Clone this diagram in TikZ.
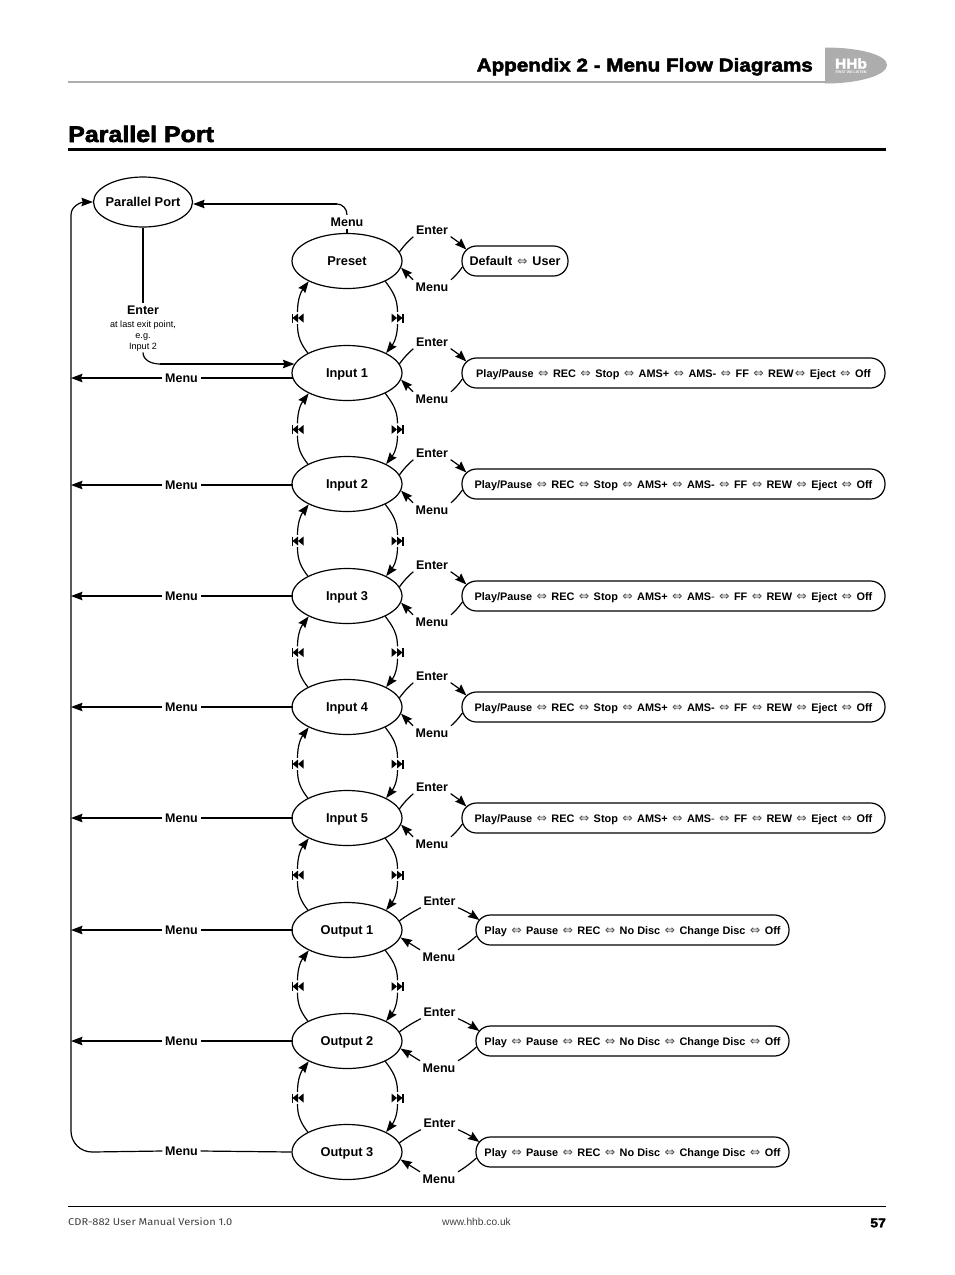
\documentclass[tikz,border=0pt]{standalone}
\usepackage{fontspec}
\usetikzlibrary{arrows.meta,shapes.geometric,calc}
\setmainfont{Liberation Sans}
\newfontfamily\symfont{DejaVu Sans}
\newfontfamily\headfont[FakeBold=2.6,FakeStretch=1.11]{Liberation Sans Bold}
\newfontfamily\footfont[FakeStretch=1.12]{Fira Sans}
\definecolor{dagrey}{gray}{0.3}
\newcommand{\dd}{\kern1.35pt{\symfont\mdseries\fontsize{12.5}{10}\selectfont\textcolor{dagrey}{⇔}}\kern1.35pt}
\newcommand{\instrip}[1]{Play/Pause \dd{} REC \dd{} Stop \dd{} AMS+ \dd{} AMS#1 \dd{} FF \dd{} REW \dd{} Eject \dd{} Off}
\newcommand{\outstrip}{Play \dd{} Pause \dd{} REC \dd{} No Disc \dd{} Change Disc \dd{} Off}
\newcommand{\smalltxt}{\mdseries\fontsize{9.1}{11}\selectfont}
\tikzset{
  x=1pt,y=-1pt,
  conn/.style={line width=1.2pt,draw=black},
  arr/.style={conn,-{Stealth[length=11.5pt,width=8.5pt,inset=1.5pt]}},
  state/.style={ellipse,draw=black,line width=1.2pt,minimum width=110pt,minimum height=55pt,inner xsep=-9pt,inner ysep=0pt,text height=9pt,text depth=0pt,font=\bfseries\fontsize{12.8}{14}\selectfont},
  stripbox/.style={rectangle,rounded corners=14.5pt,draw=black,line width=1.2pt,minimum height=30pt,inner sep=0pt,text height=8pt,text depth=0pt,font=\bfseries\fontsize{10.9}{13}\selectfont},
  lbl/.style={inner sep=2.5pt,text height=9pt,text depth=0pt,font=\bfseries\fontsize{12.5}{14}\selectfont},
  prevskip/.style={minimum width=13pt,minimum height=12pt,inner sep=0pt,path picture={
    \fill ([shift={(-6,-4.5)}]path picture bounding box.center) rectangle ++(1.1,9);
    \fill ([shift={(-5,0)}]path picture bounding box.center) -- ++(5.5,-4.5) -- ++(0,9) -- cycle;
    \fill ([shift={(0.5,0)}]path picture bounding box.center) -- ++(5.5,-4.5) -- ++(0,9) -- cycle;}},
  nextskip/.style={minimum width=13pt,minimum height=12pt,inner sep=0pt,path picture={
    \fill ([shift={(4.9,-4.5)}]path picture bounding box.center) rectangle ++(1.1,9);
    \fill ([shift={(5,0)}]path picture bounding box.center) -- ++(-5.5,-4.5) -- ++(0,9) -- cycle;
    \fill ([shift={(-0.5,0)}]path picture bounding box.center) -- ++(-5.5,-4.5) -- ++(0,9) -- cycle;}},
}
\begin{document}
\begin{tikzpicture}
\useasboundingbox (0,0) rectangle (954,1275);
\fill[white] (0,0) rectangle (954,1275);
% header
\draw[line width=2pt,draw=black!32] (68,82) -- (826,82);
\fill[black!32] (825,47.5) .. controls (860,47.5) and (887,55) .. (887,65) .. controls (887,75) and (860,83.5) .. (825,83.5) -- cycle;
\node[anchor=center,text=white,inner sep=0pt,font=\headfont\fontsize{14}{15}\selectfont] (logo) at (851,63.5) {HHb};
\node[anchor=center,text=white,inner sep=0pt,font=\bfseries\fontsize{3.6}{4}\selectfont] (logosub) at (851,72) {FIRST WE LISTEN};
\node[anchor=east,inner sep=0pt,text height=14pt,text depth=0pt,font=\headfont\fontsize{18.6}{22}\selectfont] (apx) at (813,64.5) {Appendix 2 - Menu Flow Diagrams};
\node[anchor=west,inner sep=0pt,text height=16pt,text depth=0pt,font=\headfont\fontsize{22.5}{26}\selectfont] (title) at (68,134) {Parallel Port};
\draw[line width=3pt] (68,149.5) -- (886,149.5);
% footer
\draw[line width=1pt] (68,1206) -- (886,1206);
\node[anchor=west,inner sep=0pt,text=black!75,font=\footfont\fontsize{9.9}{11}\selectfont] (ft1) at (68,1222) {CDR-882 User Manual Version 1.0};
\node[anchor=center,inner sep=0pt,text=black!75,font=\fontsize{10.2}{11}\selectfont] (ft2) at (476.5,1222) {www.hhb.co.uk};
\node[anchor=east,inner sep=0pt,font=\headfont\fontsize{12.5}{14}\selectfont] (ft3) at (886,1223) {57};
% top
\node[state,minimum width=99pt,minimum height=50pt] (pp) at (143,202) {Parallel Port};
\node[lbl] (entpp) at (143,310) {Enter};
\node[inner sep=1pt,align=center,font=\smalltxt] (entsub) at (143,336) {at last exit point,\\e.g.\\Input 2};
\node[lbl] (mtop) at (347,222) {Menu};
% states
\foreach \id/\txt/\yy in {0/Preset/261,1/Input 1/373,2/Input 2/484,3/Input 3/596,4/Input 4/707,5/Input 5/818,6/Output 1/930,7/Output 2/1041,8/Output 3/1152}{
  \node[state] (s\id) at (347,\yy) {\txt};
}
% skip icons between states
\foreach \a/\b/\yy in {0/1/318,1/2/429.5,2/3/541,3/4/652.5,4/5/764,5/6/875,6/7/986.5,7/8/1098}{
  \node[prevskip] (lp\a) at (297.5,\yy) {};
  \node[nextskip] (rp\a) at (397.5,\yy) {};
  \draw[conn] (s\b.153) to[out=128,in=-90] (lp\a.south);
  \draw[arr] (lp\a.north) to[out=90,in=-127] (s\a.208);
  \draw[conn] (s\a.-28) to[out=-53,in=90] (rp\a.north);
  \draw[arr] (rp\a.south) to[out=-90,in=52] (s\b.27);
}
% boxes
\node[stripbox,minimum width=106pt,text height=9pt,font=\bfseries\fontsize{12.6}{14}\selectfont] (b0) at (515,261) {Default \dd{} User};
\node[stripbox,minimum width=423pt] (b1) at (673.5,373) {Play/Pause \dd{} REC \dd{} Stop \dd{} AMS+ \dd{} AMS- \dd{} FF \dd{} REW\dd{} Eject \dd{} Off};
\node[stripbox,minimum width=423pt] (b2) at (673.5,484) {\instrip{-}};
\node[stripbox,minimum width=423pt] (b3) at (673.5,596) {\instrip{{\mdseries -}}};
\node[stripbox,minimum width=423pt] (b4) at (673.5,707) {\instrip{-}};
\node[stripbox,minimum width=423pt] (b5) at (673.5,818) {\instrip{{\mdseries -}}};
\node[stripbox,minimum width=313pt] (b6) at (632.5,930) {\outstrip};
\node[stripbox,minimum width=313pt] (b7) at (632.5,1041) {\outstrip};
\node[stripbox,minimum width=313pt] (b8) at (632.5,1152) {\outstrip};
% enter / menu right
\foreach \id/\yy in {0/261,1/373,2/484,3/596,4/707,5/818}{
  \node[lbl] (en\id) at (432,\yy-31.5) {Enter};
  \node[lbl] (mn\id) at (432,\yy+26) {Menu};
  \draw[conn] (s\id.10) to[bend left=6] (en\id.south west);
  \draw[arr] (en\id.south east) to[bend left=5] ([shift={(5,-11.5)}]b\id.west);
  \draw[conn] ([shift={(1,6)}]b\id.west) to[bend left=6] (mn\id.north east);
  \draw[arr] (mn\id.north west) -- (s\id.-7);
}
\foreach \id/\yy in {6/930,7/1041,8/1152}{
  \node[lbl] (en\id) at (439.5,\yy-29.5) {Enter};
  \node[lbl] (mn\id) at (439,\yy+27) {Menu};
  \draw[conn] (s\id.10) to[bend left=4] (en\id.south west);
  \draw[arr] (en\id.south east) to[bend left=5] ([shift={(4,-10)}]b\id.west);
  \draw[conn] ([shift={(1,6)}]b\id.west) to[bend left=5] (mn\id.north east);
  \draw[arr] (mn\id.north west) -- (s\id.-8);
}
% left menu lines
\coordinate (bustop) at (71,202);
\coordinate (busbot) at (71,1152);
\coordinate (busb2) at (92,1152);
\draw[arr] (busb2) to[out=180,in=-90] ($(busbot)+(0,-21)$) -- ($(bustop)+(0,13)$) to[out=90,in=180] (pp.west);
\foreach \id/\yy in {1/378,2/485,3/596,4/707,5/818,6/930,7/1041}{
  \node[lbl] (ml\id) at (181.5,\yy) {Menu};
  \coordinate (bus\id) at (71,\yy);
  \coordinate (ent\id) at (293,\yy);
  \draw[conn] (ent\id) -- (ml\id.east);
  \draw[arr] (ml\id.west) -- (bus\id);
}
\node[lbl] (ml8) at (181.5,1151) {Menu};
\draw[conn] (s8.west) -- (ml8.east);
\draw[conn] (ml8.west) -- (busb2);
% top connectors
\draw[conn] (pp.south) -- (entpp.north);
\coordinate (enterbend) at (160,364);
\draw[conn] (entsub.south) to[out=-90,in=180] (enterbend);
\draw[arr] (enterbend) -- ([shift={(3,-9)}]s1.west);
\draw[conn] (s0.north) -- (mtop.south);
\coordinate (topbend) at (337,204);
\draw[conn] (mtop.north) to[out=90,in=0] (topbend);
\draw[arr] (topbend) -- (pp.east |- topbend);
\end{tikzpicture}
\end{document}
